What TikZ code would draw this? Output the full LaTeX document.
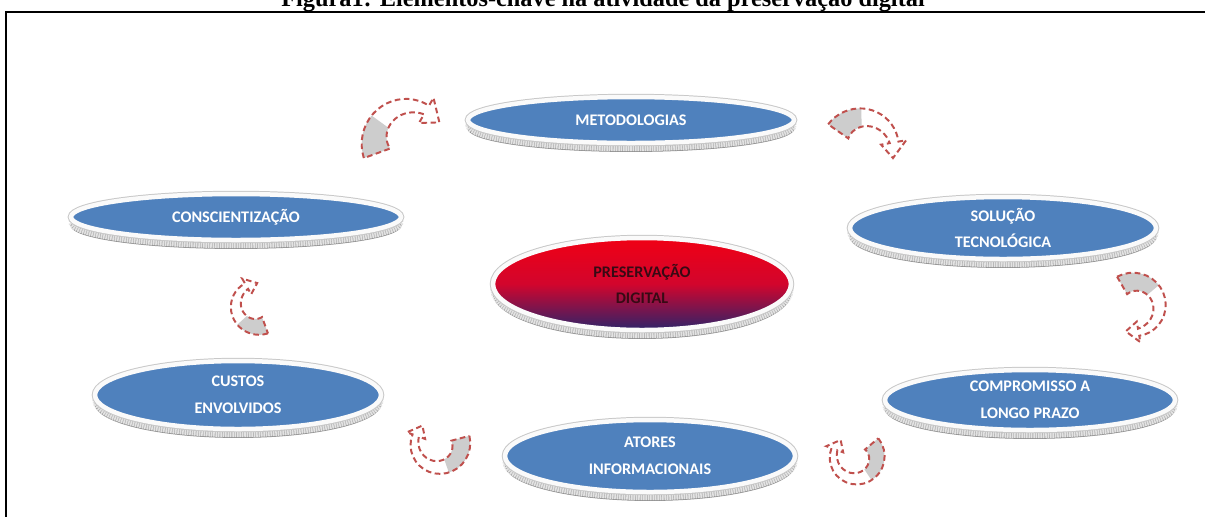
\documentclass[tikz,border=0pt]{standalone}
\usepackage{fontspec}
\setmainfont{Liberation Serif}
\newfontfamily\calibri{Carlito}
\usetikzlibrary{shapes.geometric}

\definecolor{discblue}{RGB}{79,129,189}
\definecolor{rimgray}{RGB}{200,200,200}
\definecolor{arrowred}{RGB}{192,80,77}
\definecolor{tailgray}{RGB}{205,205,205}
\definecolor{hotred}{RGB}{240,0,20}
\definecolor{midred}{RGB}{210,5,45}
\definecolor{deepnavy}{RGB}{45,35,105}
\definecolor{darktext}{RGB}{55,10,20}

\newdimen\pxu
\pxu=0.025cm

\tikzset{
  disc/.style={ellipse, inner sep=0pt, align=center, text=white,
    font=\calibri\bfseries\fontsize{11.5}{19}\selectfont,
    preaction={fill=gray!60, draw=gray!85, line width=.7pt, transform canvas={yshift=-6pt}},
    preaction={draw=gray!22, line width=3.6pt, dash pattern=on 1.1pt off .6pt, transform canvas={yshift=-4pt}},
    preaction={draw=rimgray, line width=4.6pt},
    fill=discblue, draw=white!96!gray, line width=3.2pt},
  core/.style={disc, text=darktext, top color=hotred, bottom color=deepnavy, middle color=midred},
  dims/.style 2 args={minimum width=#1\pxu, minimum height=#2\pxu},
  turn/.style={arrowred, line width=1.4pt, dash pattern=on 4pt off 2.5pt},
}

% curved cycle arrow: centre, size, angle of tail, angle of head
\newcommand{\turnarrow}[4]{%
  \begin{scope}[shift={(#1)}, scale=#2]
    \pgfmathsetmacro\tipang{#4+28*sign(#4-#3)}
    \pgfmathsetmacro\grayend{#3+0.4*(#4-#3)}
    \fill[tailgray] plot[domain=#3:\grayend, samples=10] (\x:{47-5*(\x-#3)/(#4-#3)})
      -- plot[domain=\grayend:#3, samples=10] (\x:{19+13*(\x-#3)/(#4-#3)}) -- cycle;
    \draw[turn] plot[domain=#3:#4, samples=20] (\x:{47-5*(\x-#3)/(#4-#3)})
      -- (#4:51) -- (\tipang:37) -- (#4:22)
      -- plot[domain=#4:#3, samples=20] (\x:{19+13*(\x-#3)/(#4-#3)}) -- cycle;
  \end{scope}}

\begin{document}
\begin{tikzpicture}[x=0.025cm, y=-0.025cm]
\useasboundingbox (0,0) rectangle (1205,516);
\fill[white] (0,0) rectangle (1205,516);

\node[anchor=base, font=\bfseries\fontsize{17.3}{20}\selectfont] (title) at (603,6)
  {Figura1: Elementos-chave na atividade da preservação digital};
\draw[line width=1.6pt] (6,520) -- (6,12) -- (1210,12);

\node[disc, dims={326}{46}] (meto) at (631,120) {METODOLOGIAS};
\node[disc, dims={330}{46}] (consc) at (236,217) {CONSCIENTIZAÇÃO};
\node[disc, dims={306}{62}] (tecno) at (1003,228) {SOLUÇÃO\\TECNOLÓGICA};
\node[core, dims={298}{92}] (preserv) at (642,284) {PRESERVAÇÃO\\DIGITAL};
\node[disc, dims={286}{68}] (custos) at (238,395) {CUSTOS\\ENVOLVIDOS};
\node[disc, dims={290}{60}] (prazo) at (1030,400) {COMPROMISSO A\\LONGO PRAZO};
\node[disc, dims={290}{72}] (atores) at (650,456) {ATORES\\INFORMACIONAIS};

\turnarrow{408,142}{1}{160}{300}
\turnarrow{862,148}{.88}{215}{350}
\turnarrow{1134,306}{.72}{240}{440}
\turnarrow{856,457}{.62}{-40}{200}
\turnarrow{439,444}{.67}{-15}{200}
\turnarrow{258,306}{.62}{70}{240}
\end{tikzpicture}
\end{document}
